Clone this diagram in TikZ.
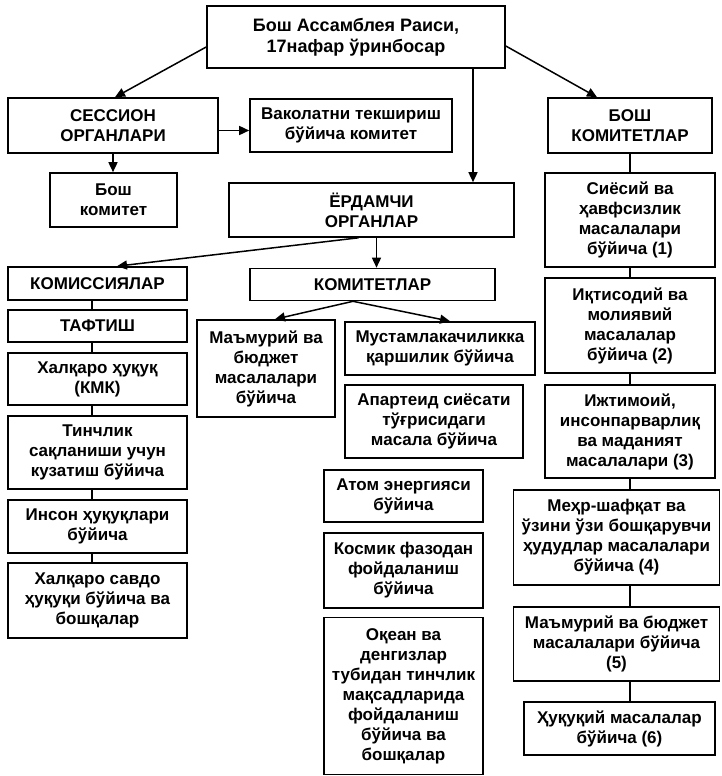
\documentclass[tikz,border=0pt]{standalone}
\usepackage{fontspec}
\setmainfont{Liberation Sans}
\usetikzlibrary{arrows.meta,calc}
\begin{document}
\begin{tikzpicture}[x=1pt,y=-1pt,
  box/.style={draw,line width=1.6pt,align=center,inner sep=0pt,
    font={\fontsize{17pt}{20pt}\selectfont\bfseries}},
  bigtext/.style={font={\fontsize{18pt}{21pt}\selectfont\bfseries}},
  arr/.style={line width=1.5pt,-{Triangle[length=10pt,width=9pt]}},
  link/.style={line width=1.5pt}]
\useasboundingbox (0,0) rectangle (721,776);
\node[box,bigtext,minimum width=298pt,minimum height=62pt] (top) at (356,37) {Бош Ассамблея Раиси,\\17нафар ўринбосар};
\node[box,minimum width=210pt,minimum height=55pt] (sess) at (113,125.5) {СЕССИОН\\ОРГАНЛАРИ};
\node[box,minimum width=202pt,minimum height=53pt] (vak) at (351,125.5) {Ваколатни текшириш\\бўйича комитет};
\node[box,minimum width=164pt,minimum height=55pt] (boshkom) at (630,125.5) {БОШ\\КОМИТЕТЛАР};
\node[box,minimum width=127pt,minimum height=54pt] (boshc) at (113.5,200) {Бош\\комитет};
\node[box,minimum width=285pt,minimum height=54pt] (yord) at (371.5,210) {ЁРДАМЧИ\\ОРГАНЛАР};
\node[box,minimum width=179pt,minimum height=33pt] (komis) at (97.5,283.5) {КОМИССИЯЛАР};
\node[box,minimum width=245pt,minimum height=32pt] (komit) at (372.5,284.5) {КОМИТЕТЛАР};
\node[box,minimum width=179pt,minimum height=32pt] (taft) at (97.5,326) {ТАФТИШ};
\node[box,minimum width=179pt,minimum height=52pt] (xalq) at (97.5,379) {Халқаро ҳуқуқ\\(КМК)};
\node[box,minimum width=179pt,minimum height=73pt] (tinch) at (97.5,452.5) {Тинчлик\\сақланиши учун\\кузатиш бўйича};
\node[box,minimum width=179pt,minimum height=53pt] (inson) at (97.5,526.5) {Инсон ҳуқуқлари\\бўйича};
\node[box,minimum width=179pt,minimum height=75pt] (savdo) at (97.5,600.5) {Халқаро савдо\\ҳуқуқи бўйича ва\\бошқалар};
\node[box,minimum width=138pt,minimum height=97pt] (mamur) at (266,368.5) {Маъмурий ва\\бюджет\\масалалари\\бўйича};
\node[box,minimum width=190pt,minimum height=53pt] (must) at (440,348.5) {Мустамлакачиликка\\қаршилик бўйича};
\node[box,minimum width=178pt,minimum height=73pt] (apart) at (434,421.5) {Апартеид сиёсати\\тўғрисидаги\\масала бўйича};
\node[box,minimum width=159pt,minimum height=52pt] (atom) at (403.5,496) {Атом энергияси\\бўйича};
\node[box,minimum width=159pt,minimum height=75pt] (kosm) at (403.5,570.5) {Космик фазодан\\фойдаланиш\\бўйича};
\node[box,minimum width=159pt,minimum height=157pt] (okean) at (403.5,696) {Оқеан ва\\денгизлар\\тубидан тинчлик\\мақсадларида\\фойдаланиш\\бўйича ва\\бошқалар};
\node[box,minimum width=170pt,minimum height=94pt] (siyos) at (630,220) {Сиёсий ва\\ҳавфсизлик\\масалалари\\бўйича (1)};
\node[box,minimum width=170pt,minimum height=95pt] (iqt) at (630,325.5) {Иқтисодий ва\\молиявий\\масалалар\\бўйича (2)};
\node[box,minimum width=170pt,minimum height=93pt] (ijt) at (630,431.5) {Ижтимоий,\\инсонпарварлиқ\\ва маданият\\масалалари (3)};
\node[box,minimum width=206pt,minimum height=95pt] (mehr) at (616.5,537.5) {Меҳр-шафқат ва\\ўзини ўзи бошқарувчи\\ҳудудлар масалалари\\бўйича (4)};
\node[box,minimum width=206pt,minimum height=74pt] (mam5) at (616.5,644) {Маъмурий ва бюджет\\масалалари бўйича\\(5)};
\node[box,minimum width=191pt,minimum height=53pt] (huq) at (619.5,728.5) {Ҳуқуқий масалалар\\бўйича (6)};
% arrows
\draw[arr] ([yshift=-10pt]top.west) -- ([xshift=2pt]sess.north);
\draw[arr] ([yshift=-9pt]top.east) -- ([xshift=-33pt]boshkom.north);
\draw[arr] ([xshift=117pt]top.south) -- ([xshift=117pt]top.south |- yord.north);
\draw[arr] ([yshift=-5pt]sess.east) -- ([yshift=-5pt]sess.east -| vak.west);
\draw[arr] (sess.south) -- (sess.south |- boshc.north);
\draw[arr] ([xshift=-13pt]yord.south) -- ([xshift=19.5pt]komis.north);
\draw[arr] ([xshift=5pt]yord.south) -- ([xshift=5pt]yord.south |- komit.north);
\draw[arr] ([xshift=-19.5pt]komit.south) -- ([xshift=9pt]mamur.north);
\draw[arr] ([xshift=-19.5pt]komit.south) -- ([xshift=10pt]must.north);
% links
\draw[link] (boshkom.south) -- (siyos.north);
\draw[link] (siyos.south) -- (iqt.north);
\draw[link] (iqt.south) -- (ijt.north);
\draw[link] (ijt.south) -- (ijt.south |- mehr.north);
\draw[link] (ijt.south |- mehr.south) -- (ijt.south |- mam5.north);
\draw[link] (ijt.south |- mam5.south) -- (ijt.south |- huq.north);
\draw[link] ([xshift=-5.5pt]komis.south) -- ([xshift=-5.5pt]taft.north);
\draw[link] ([xshift=-5.5pt]taft.south) -- ([xshift=-5.5pt]xalq.north);
\draw[link] ([xshift=-5.5pt]xalq.south) -- ([xshift=-5.5pt]tinch.north);
\draw[link] ([xshift=-5.5pt]tinch.south) -- ([xshift=-5.5pt]inson.north);
\draw[link] ([xshift=-5.5pt]inson.south) -- ([xshift=-5.5pt]savdo.north);
\end{tikzpicture}
\end{document}
